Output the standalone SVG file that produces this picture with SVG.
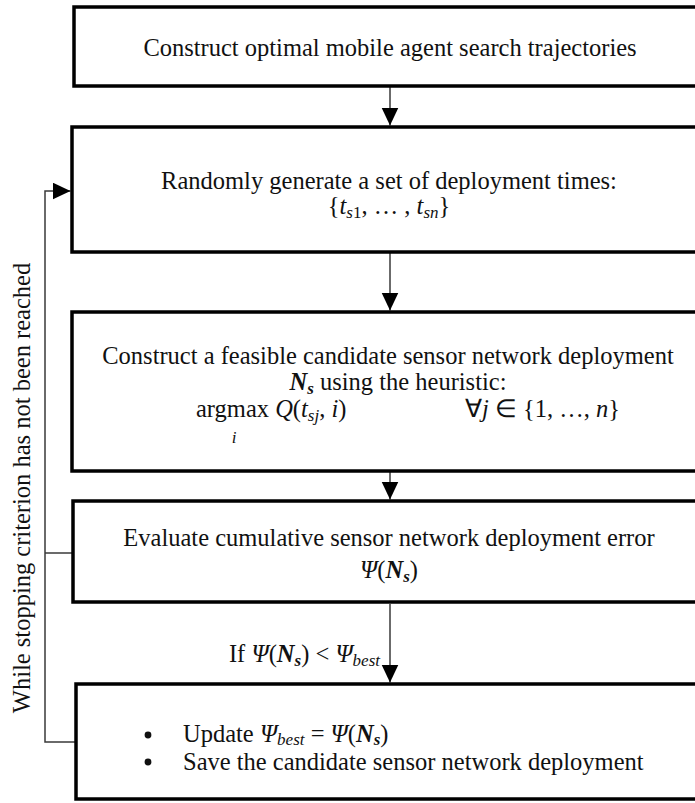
<svg xmlns="http://www.w3.org/2000/svg" width="695" height="803" viewBox="0 0 695 803">
<defs>
<style>
.box{fill:#fff;stroke:#000;stroke-width:3.5}
.con{fill:none;stroke:#3a3a3a;stroke-width:1.5}
.t{font-family:"Liberation Serif","Times New Roman",serif;font-size:24.5px;fill:#111}
.m{font-style:italic}
.b{font-weight:bold;font-style:italic}
.s{font-size:17px}
</style>
<marker id="ah" markerUnits="userSpaceOnUse" markerWidth="18" markerHeight="18" refX="18" refY="8.5" orient="auto">
<path d="M0,0 L18,8.5 L0,17 z" fill="#000"/>
</marker>
</defs>
<rect width="695" height="803" fill="#fff"/>
<g id="connectors">
<line class="con" x1="390" y1="87" x2="390" y2="125.5" marker-end="url(#ah)"/>
<line class="con" x1="390" y1="253" x2="390" y2="310.5" marker-end="url(#ah)"/>
<line class="con" x1="390" y1="472" x2="390" y2="499.5" marker-end="url(#ah)"/>
<line class="con" x1="390" y1="604" x2="390" y2="682.5" marker-end="url(#ah)"/>
<path class="con" d="M76,742 H45 V191 H70.5" marker-end="url(#ah)"/>
<path class="con" d="M73,553 H45"/>
</g>
<g id="node1">
<rect class="box" x="74" y="7" width="640" height="79"/>
<text class="t" x="390" y="56" text-anchor="middle">Construct optimal mobile agent search trajectories</text>
</g>
<g id="node2">
<rect class="box" x="72" y="127" width="642" height="125"/>
<text class="t" x="389" y="189" text-anchor="middle">Randomly generate a set of deployment times:</text>
<text class="t" x="389" y="214" text-anchor="middle">{<tspan class="m">t</tspan><tspan class="m s" dy="4">s</tspan><tspan class="s">1</tspan><tspan dy="-4">, … , </tspan><tspan class="m">t</tspan><tspan class="m s" dy="4">sn</tspan><tspan dy="-4">}</tspan></text>
</g>
<g id="node3">
<rect class="box" x="72" y="312" width="642" height="159"/>
<text class="t" x="388" y="364" text-anchor="middle">Construct a feasible candidate sensor network deployment</text>
<text class="t" x="398" y="390" text-anchor="middle"><tspan class="b">N</tspan><tspan class="b s" dy="4">s</tspan><tspan dy="-4"> using the heuristic:</tspan></text>
<text class="t" x="196" y="417">argmax <tspan class="m">Q</tspan>(<tspan class="m">t</tspan><tspan class="m s" dy="4">sj</tspan><tspan dy="-4">, </tspan><tspan class="m">i</tspan>)</text>
<text class="t m s" x="234" y="443" text-anchor="middle">i</text>
<text class="t" x="465" y="417">∀<tspan class="m">j</tspan> ∈ {1, …, <tspan class="m">n</tspan>}</text>
</g>
<g id="node4">
<rect class="box" x="73" y="501" width="641" height="101"/>
<text class="t" x="389" y="546" text-anchor="middle">Evaluate cumulative sensor network deployment error</text>
<text class="t" x="389" y="578" text-anchor="middle"><tspan class="m">Ψ</tspan>(<tspan class="b">N</tspan><tspan class="b s" dy="4">s</tspan><tspan dy="-4">)</tspan></text>
</g>
<g id="edge-label">
<text class="t" x="380" y="662" text-anchor="end">If <tspan class="m">Ψ</tspan>(<tspan class="b">N</tspan><tspan class="b s" dy="4">s</tspan><tspan dy="-4">) &lt; </tspan><tspan class="m">Ψ</tspan><tspan class="m s" dy="4">best</tspan></text>
</g>
<g id="node5">
<rect class="box" x="76" y="684" width="638" height="115"/>
<circle cx="148" cy="735" r="3.4" fill="#111"/>
<circle cx="148" cy="762" r="3.4" fill="#111"/>
<text class="t" x="183" y="742">Update <tspan class="m">Ψ</tspan><tspan class="m s" dy="3">best</tspan><tspan dy="-3"> = </tspan><tspan class="m">Ψ</tspan>(<tspan class="b">N</tspan><tspan class="b s" dy="3">s</tspan><tspan dy="-3">)</tspan></text>
<text class="t" x="183" y="770">Save the candidate sensor network deployment</text>
</g>
<g id="loop-label">
<text class="t" x="0" y="0" text-anchor="middle" transform="translate(30,488) rotate(-90)">While stopping criterion has not been reached</text>
</g>
</svg>
